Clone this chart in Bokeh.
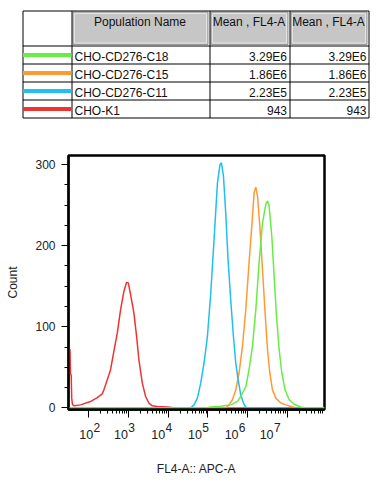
from bokeh.plotting import figure
from bokeh.layouts import column
from bokeh.models import Range1d, FixedTicker, SingleIntervalTicker, LogAxis
from bokeh.core.properties import value
from bokeh.embed import file_html
from bokeh.resources import INLINE

FONT = "Liberation Sans"

# ---------------- data ----------------
populations = ["CHO-CD276-C18", "CHO-CD276-C15", "CHO-CD276-C11", "CHO-K1"]
mean_a = ["3.29E6", "1.86E6", "2.23E5", "943"]
mean_b = ["3.29E6", "1.86E6", "2.23E5", "943"]
headers = ["Population Name", "Mean , FL4-A", "Mean , FL4-A"]
pop_colors = ["#66ee44", "#ff9933", "#1ec0f0", "#ee3333"]

red_x = [31.3, 33.5, 34.5, 36.0, 37.0, 38.7, 43.5, 61.7, 110, 163, 218, 239, 292, 353, 428,
         521, 632, 766, 896, 989, 1130, 1368, 1602, 1832, 2230, 2703, 3273, 3990, 5333,
         9550, 15450, 8.7e7]
red_y = [72, 72, 42, 40, 12, 4, 2.5, 3.7, 7.8, 12.7, 17.3, 22, 34.6, 47, 69.5,
         92, 121, 143.6, 154.7, 154, 139.5, 117, 88, 59, 30.5, 14, 5.8, 2.5, 1.6,
         1, 0, 0]

blue_x = [31, 36980, 44870, 54580, 66220, 80220, 97700, 118300, 143500, 174700, 203200,
          220300, 247700, 283100, 323600, 378400, 442600, 506800, 579400, 677600,
          792500, 905700, 1019000, 8.7e7]
blue_y = [0, 0, 3.7, 12, 30.5, 55, 88, 141, 207, 277, 300,
          302, 286, 240, 183, 133, 88, 55, 35, 16,
          6, 1, 0, 0]

orange_x = [31, 283100, 343000, 417800, 506800, 614300, 748000, 905700, 1097000, 1284000,
            1469000, 1622000, 1791000, 2047000, 2395000, 2782000, 3198000, 3656000,
            4276000, 5185000, 6934000, 9276000, 12400000, 16580000, 8.7e7]
orange_y = [0, 0, 3.7, 10, 22, 43, 76, 121, 179, 224,
            265, 272, 261, 224, 170, 117, 72, 43,
            22, 12, 6, 3.7, 1.6, 0, 0]

green_x = [31, 88510, 118300, 211800, 378400, 558500, 677600, 905700, 1097000, 1336000,
           1622000, 1963000, 2395000, 2900000, 3198000, 3508000, 4111000, 4699000,
           5397000, 6281000, 7345000, 8896000, 11240000, 15020000, 22180000, 29650000, 8.7e7]
green_y = [0, 0, 1, 2, 3.7, 8, 14, 26, 47, 76,
           121, 179, 228, 251, 255, 249, 211, 162,
           113, 72, 43, 22, 10, 4.5, 1, 0, 0]

decades = [2, 3, 4, 5, 6, 7]

# ---------------- table (data units = pixels) ----------------
tw, th = 376, 130
t = figure(width=tw, height=th, x_range=Range1d(0, tw), y_range=Range1d(th, 0),
           output_backend="svg", toolbar_location=None, frame_align=False,
           min_border_left=0, min_border_right=0, min_border_top=0, min_border_bottom=0)
t.axis.visible = False
t.grid.visible = False
t.outline_line_color = None

col_edges = [22.5, 71.5, 209.5, 289.5, 368.5]
head_top, head_bot = 10.5, 45.5
row_h = 18
row_edges = [head_bot + i * row_h for i in range(len(populations) + 1)]

# header grey cells
for i in range(1, 4):
    l, r = col_edges[i] + 1, col_edges[i + 1] - 2
    t.quad(left=[l], right=[r], top=[head_top + 1], bottom=[head_bot - 1.5],
           fill_color="#c6c6c6", line_color="#9a9a9a", line_width=1)
    t.quad(left=[l + 1.5], right=[r - 1.5], top=[head_top + 2.5], bottom=[head_bot - 3],
           fill_color=None, line_color="#e4e4e4", line_width=1)

# grid lines
t.segment(x0=[col_edges[0]] * len(row_edges), x1=[col_edges[-1]] * len(row_edges),
          y0=row_edges, y1=row_edges, line_color="black", line_width=1)
t.segment(x0=[col_edges[0]], x1=[col_edges[-1]], y0=[head_top], y1=[head_top],
          line_color="black", line_width=1)
t.segment(x0=col_edges, x1=col_edges, y0=[head_top] * len(col_edges),
          y1=[row_edges[-1]] * len(col_edges), line_color="black", line_width=1)

# header texts
hx = [(col_edges[i] + col_edges[i + 1]) / 2 - 1 for i in range(1, 4)]
t.text(x=hx, y=[21.2] * 3, text=headers, text_align="center", text_baseline="middle",
       text_font=value(FONT), text_font_size="12px", text_color="#111111")

# rows
centers = [(row_edges[i] + row_edges[i + 1]) / 2 for i in range(len(populations))]
text_y = [c + 1.7 for c in centers]
t.segment(x0=[col_edges[0]] * 4, x1=[col_edges[1] - 0.5] * 4, y0=centers, y1=centers,
          line_color=pop_colors, line_width=4)
t.text(x=[col_edges[1] + 2.5] * 4, y=text_y, text=populations, text_align="left",
       text_baseline="middle", text_font=value(FONT), text_font_size="12px",
       text_color="#111111")
t.text(x=[col_edges[3] - 3] * 4, y=text_y, text=mean_a, text_align="right",
       text_baseline="middle", text_font=value(FONT), text_font_size="12px",
       text_color="#111111")
t.text(x=[col_edges[4] - 2.5] * 4, y=text_y, text=mean_b, text_align="right",
       text_baseline="middle", text_font=value(FONT), text_font_size="12px",
       text_color="#111111")

# ---------------- histogram ----------------
x_lo, x_hi = 1.4874, 7.942          # log10 limits of the axis
frame_w = 256
p = figure(width=376, height=355, x_axis_type="log",
           x_range=Range1d(10 ** x_lo, 10 ** x_hi), y_range=Range1d(-2, 311),
           output_backend="svg", toolbar_location=None, frame_align=False,
           min_border_left=68, min_border_right=52, min_border_top=25, min_border_bottom=76)
p.grid.visible = False
p.outline_line_color = "black"
p.outline_line_width = 2.5

for xs, ys, c in [(red_x, red_y, pop_colors[3]), (orange_x, orange_y, pop_colors[1]),
                  (blue_x, blue_y, pop_colors[2]), (green_x, green_y, pop_colors[0])]:
    p.line(xs, ys, line_color=c, line_width=1.5)

yax = p.yaxis[0]
yax.ticker = SingleIntervalTicker(interval=100, num_minor_ticks=4)
yax.axis_line_width = 2
yax.major_tick_out = 7
yax.major_tick_in = 0
yax.minor_tick_out = 4
yax.minor_tick_in = 0
yax.major_label_text_font = FONT
yax.major_label_text_font_size = "12px"
yax.major_label_text_color = "#222222"
yax.major_label_standoff = 6
yax.axis_label = "Count"
yax.axis_label_text_font = FONT
yax.axis_label_text_font_size = "12px"
yax.axis_label_text_font_style = "normal"
yax.axis_label_text_color = "#222222"
yax.axis_label_standoff = 12

# main x axis: ticks only (its own labels are transparent and tiny)
xax = p.xaxis[0]
xax.ticker = FixedTicker(ticks=[10.0 ** d for d in decades],
                         minor_ticks=[k * 10.0 ** d for d in decades for k in range(2, 10)])
xax.axis_line_width = 2.5
xax.major_tick_out = 8
xax.major_tick_in = 0
xax.minor_tick_out = 4
xax.minor_tick_in = 0
xax.major_label_text_font_size = "1px"
xax.major_label_text_alpha = 0
xax.major_label_standoff = 0

# decade labels "10" with raised exponent (FlowJo places them slightly left of the ticks)
px_per_decade = frame_w / (x_hi - x_lo)
label_shift = [-2.6, -7.5, -9.9, -12.8, -15.9, -20.5]
exp_ticks = [10.0 ** (d + (s + 10.6) / px_per_decade) for d, s in zip(decades, label_shift)]
ten_ticks = [10.0 ** (d + s / px_per_decade) for d, s in zip(decades, label_shift)]


def label_axis(ticks, texts, size, standoff):
    ax = LogAxis(ticker=FixedTicker(ticks=ticks, minor_ticks=[]))
    ax.major_label_overrides = {tk: tx for tk, tx in zip(ticks, texts)}
    ax.axis_line_color = None
    ax.major_tick_line_color = None
    ax.minor_tick_line_color = None
    ax.major_tick_out = 0
    ax.major_tick_in = 0
    ax.minor_tick_out = 0
    ax.minor_tick_in = 0
    ax.major_label_text_font = FONT
    ax.major_label_text_font_size = size
    ax.major_label_text_color = "#222222"
    ax.major_label_standoff = standoff
    return ax


exp_axis = label_axis(exp_ticks, [str(d) for d in decades], "12px", 5)
ten_axis = label_axis(ten_ticks, ["10"] * len(decades), "12.5px", -5)
ten_axis.axis_label = "FL4-A:: APC-A"
ten_axis.axis_label_text_font = FONT
ten_axis.axis_label_text_font_size = "12px"
ten_axis.axis_label_text_font_style = "normal"
ten_axis.axis_label_text_color = "#222222"
ten_axis.axis_label_standoff = 20
p.add_layout(exp_axis, "below")
p.add_layout(ten_axis, "below")

layout = column(t, p)
open("out.html", "w").write(file_html(layout, INLINE))
